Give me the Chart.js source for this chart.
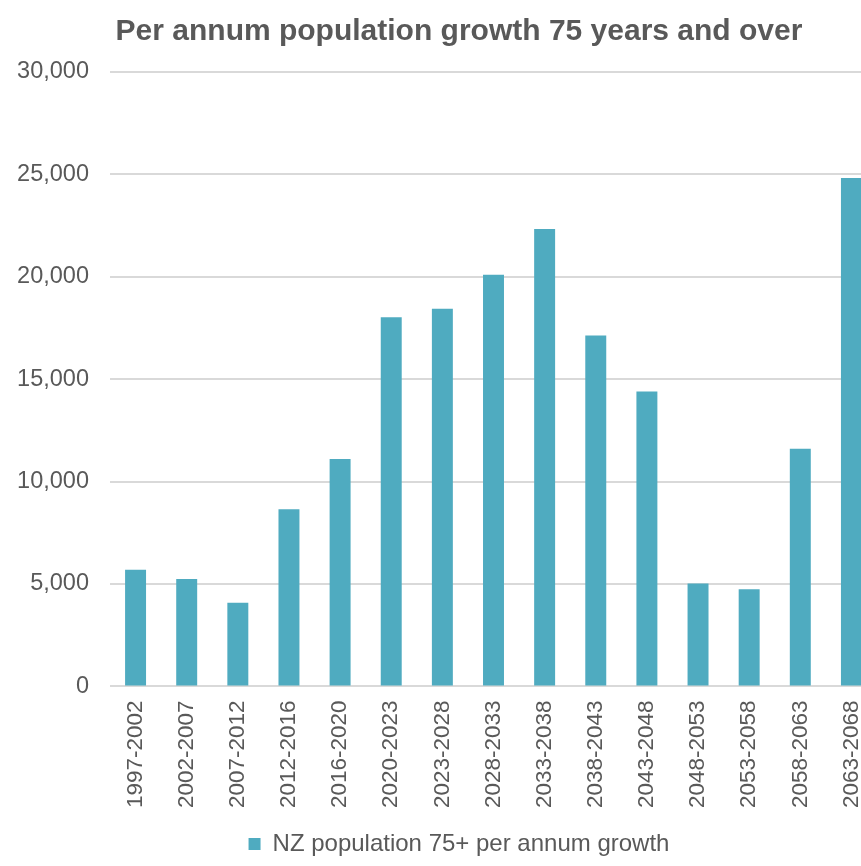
<!DOCTYPE html>
<html>
<head>
<meta charset="utf-8">
<title>Per annum population growth 75 years and over</title>
<script src="https://cdn.jsdelivr.net/npm/chart.js@4/dist/chart.umd.min.js"></script>
<style>
  html, body { margin: 0; padding: 0; background: #fff; overflow: hidden; }
  #growthChart { display: block; width: 901px; height: 866px; }
</style>
</head>
<body>
<canvas id="growthChart" width="901" height="866"></canvas>
<script>
// five-year (and shorter) periods, NZ population aged 75+
const periods = [
  '1997-2002', '2002-2007', '2007-2012', '2012-2016', '2016-2020',
  '2020-2023', '2023-2028', '2028-2033', '2033-2038', '2038-2043',
  '2043-2048', '2048-2053', '2053-2058', '2058-2063', '2063-2068'
];

// average growth per annum over each period
const annualGrowth = [
  5700, 5250, 4080, 8650, 11100,
  18020, 18440, 20100, 22330, 17130,
  14400, 5030, 4740, 11610, 24830
];

const yTicks = [0, 5000, 10000, 15000, 20000, 25000, 30000];

const textColor = '#595959';
const gridColor = '#d9d9d9';
const barColor = '#4fabc0';
const fontFamily = '"Liberation Sans", Arial, sans-serif';

window.addEventListener('DOMContentLoaded', () => {
  const ctx = document.getElementById('growthChart');

  new Chart(ctx, {
    type: 'bar',
    data: {
      labels: periods,
      datasets: [{
        label: 'NZ population 75+ per annum growth',
        data: annualGrowth,
        backgroundColor: barColor,
        borderWidth: 0,
        categoryPercentage: 1,
        barPercentage: 0.41
      }]
    },
    options: {
      responsive: false,
      animation: false,
      layout: {
        padding: { left: 17, right: 0, top: 0, bottom: 0 }
      },
      plugins: {
        title: {
          display: true,
          text: 'Per annum population growth 75 years and over',
          color: textColor,
          font: { family: fontFamily, size: 30, weight: 'bold' },
          padding: { top: 14, bottom: 22 }
        },
        legend: {
          display: true,
          position: 'bottom',
          labels: {
            color: textColor,
            font: { family: fontFamily, size: 24 },
            boxWidth: 12,
            boxHeight: 12,
            padding: 10
          }
        },
        tooltip: { enabled: false }
      },
      scales: {
        x: {
          grid: { display: false, drawTicks: false },
          border: { display: false },
          ticks: {
            color: textColor,
            font: { family: fontFamily, size: 22.5 },
            minRotation: 90,
            maxRotation: 90,
            padding: 14,
            autoSkip: false
          }
        },
        y: {
          min: 0,
          max: 30000,
          afterBuildTicks: axis => {
            axis.ticks = yTicks.map(v => ({ value: v }));
          },
          afterFit: axis => {
            axis.width = 93;
          },
          grid: { color: gridColor, lineWidth: 2, drawTicks: false },
          border: { display: false },
          ticks: {
            color: textColor,
            font: { family: fontFamily, size: 23.5 },
            padding: 21,
            callback: v => v.toLocaleString('en-US')
          }
        },
        // empty right-hand margin so title and legend centre on the whole figure
        yRight: {
          position: 'right',
          display: true,
          grid: { display: false, drawTicks: false },
          border: { display: false },
          ticks: { display: false },
          afterFit: axis => {
            axis.width = 24;
          }
        }
      }
    }
  });
});
</script>
</body>
</html>
